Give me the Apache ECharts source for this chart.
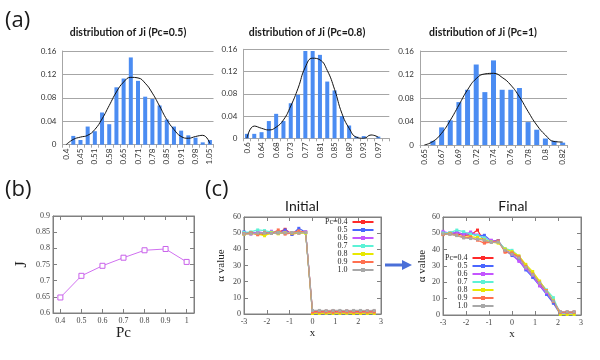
<!DOCTYPE html>
<html>
<head>
<meta charset="utf-8">
<script src="https://cdn.jsdelivr.net/npm/echarts@6/dist/echarts.min.js"></script>
<style>
  html, body { margin: 0; padding: 0; background: #fff; }
  #chart { width: 600px; height: 360px; }
</style>
</head>
<body>
<div id="chart"></div>
<script>
// (a) distribution of Ji, three histograms with a density curve
const catsA1 = ['0.4', '0.42', '0.45', '0.48', '0.51', '0.55', '0.58', '0.61', '0.65', '0.68', '0.71',
  '0.75', '0.78', '0.81', '0.85', '0.88', '0.91', '0.95', '0.98', '1.01', '1.05'];
const barsA1 = [0, 0.015, 0.008, 0.031, 0.023, 0.055, 0.035, 0.098, 0.113, 0.149, 0.109,
  0.082, 0.078, 0.067, 0.043, 0.031, 0.024, 0.016, 0.012, 0.004, 0.008];
const curveA1 = [0, 0.009, 0.013, 0.016, 0.026, 0.044, 0.067, 0.09, 0.107, 0.115, 0.114,
  0.105, 0.088, 0.066, 0.043, 0.026, 0.014, 0.011, 0.014, 0.016, 0.002];

const catsA2 = ['0.6', '0.62', '0.64', '0.66', '0.68', '0.71', '0.73', '0.75', '0.77', '0.79',
  '0.81', '0.83', '0.85', '0.87', '0.89', '0.91', '0.93', '0.95', '0.97', '0.99'];
const barsA2 = [0.008, 0.008, 0.011, 0.031, 0.044, 0.031, 0.063, 0.078, 0.157, 0.157,
  0.15, 0.102, 0.086, 0.04, 0.023, 0.003, 0.004, 0, 0.003, 0];
const curveA2 = [0, 0.022, 0.018, 0.015, 0.02, 0.033, 0.058, 0.09, 0.128, 0.144,
  0.141, 0.122, 0.088, 0.045, 0.018, 0.002, 0, 0.006, 0.002, '-'];

const catsA3 = ['0.65', '0.66', '0.67', '0.68', '0.69', '0.71', '0.72', '0.73', '0.74', '0.75',
  '0.76', '0.77', '0.78', '0.79', '0.8', '0.81', '0.82'];
const barsA3 = [0, 0.007, 0.03, 0.042, 0.073, 0.094, 0.137, 0.09, 0.144, 0.094,
  0.094, 0.097, 0.039, 0.026, 0.011, 0.007, 0.004];
const curveA3 = [0, 0.006, 0.02, 0.042, 0.068, 0.094, 0.113, 0.121, 0.122, 0.115,
  0.102, 0.082, 0.057, 0.034, 0.017, 0.006, 0.005];

// (b) J versus Pc
const pcVals = [0.4, 0.5, 0.6, 0.7, 0.8, 0.9, 1];
const jVals = [0.648, 0.715, 0.746, 0.771, 0.794, 0.798, 0.758];

// (c) alpha value along x, initial and final
const xs = [-3, -2.7, -2.4, -2.1, -1.8, -1.5, -1.2, -0.9, -0.6, -0.3,
  0, 0.3, 0.6, 0.9, 1.2, 1.5, 1.8, 2.1, 2.4, 2.7];
const pcNames = ['Pc=0.4', '0.5', '0.6', '0.7', '0.8', '0.9', '1.0'];
const pcColors = ['#ff2a2a', '#4a66ff', '#c455ff', '#5cf2d6', '#e8e800', '#ff7050', '#a8a8a8'];

const initial = [
  [49.8, 50.4, 49.6, 49.2, 50.0, 50.6, 52.4, 49.4, 50.2, 50.6, 1.8, 1.6, 1.7, 1.9, 1.6, 1.8, 1.7, 1.6, 1.8, 1.7],
  [50.8, 49.8, 50.4, 49.6, 50.6, 50.2, 52.0, 49.2, 53.0, 50.6, 0.5, 0.4, 0.6, 0.5, 0.4, 0.5, 0.6, 0.4, 0.5, 0.5],
  [50.2, 49.4, 50.8, 50.2, 51.2, 49.8, 50.6, 50.4, 50.2, 50.8, 0.8, 0.9, 0.8, 0.7, 0.9, 0.8, 0.8, 0.9, 0.7, 0.8],
  [50.4, 50.8, 52.0, 51.6, 50.6, 51.0, 49.8, 50.2, 50.6, 50.2, 0.6, 0.7, 0.6, 0.6, 0.7, 0.6, 0.6, 0.7, 0.6, 0.6],
  [49.2, 49.8, 49.4, 48.4, 50.2, 49.6, 50.4, 50.0, 50.2, 50.0, 0.3, 0.3, 0.4, 0.3, 0.3, 0.4, 0.3, 0.3, 0.3, 0.3],
  [49.6, 50.2, 49.0, 50.6, 49.8, 52.0, 49.4, 50.2, 51.4, 50.4, 1.2, 1.3, 1.2, 1.1, 1.3, 1.2, 1.2, 1.3, 1.2, 1.2],
  [49.4, 49.6, 50.0, 50.2, 49.8, 50.0, 50.2, 50.4, 50.0, 50.4, 2.2, 2.2, 2.1, 2.2, 2.2, 2.1, 2.2, 2.2, 2.1, 2.2]
];
const final = [
  [49.6, 50.2, 49.6, 48.8, 49.0, 52.0, 44.6, 45.0, 45.4, 39.0, 38.0, 35.4, 29.0, 24.0, 18.8, 14.6, 7.6, 1.8, 1.8, 1.8],
  [50.4, 49.8, 50.6, 49.6, 49.8, 48.6, 48.8, 45.4, 45.6, 39.8, 36.4, 33.6, 27.6, 23.0, 18.0, 12.6, 7.2, 0.4, 0.4, 0.4],
  [51.2, 50.0, 50.4, 49.2, 50.8, 49.0, 47.0, 45.8, 44.6, 40.2, 37.0, 32.8, 28.4, 24.2, 17.8, 13.6, 8.4, 0.8, 0.8, 0.8],
  [50.2, 50.4, 52.0, 51.0, 49.6, 48.6, 47.2, 45.0, 44.8, 40.6, 39.6, 36.0, 30.4, 25.4, 20.4, 15.4, 10.6, 0.6, 0.6, 0.6],
  [49.4, 49.8, 48.8, 47.6, 48.0, 47.4, 46.0, 44.6, 44.0, 40.4, 38.8, 36.2, 31.0, 26.6, 20.8, 15.0, 9.0, 0.3, 0.3, 0.3],
  [49.2, 49.6, 48.8, 47.4, 47.6, 45.8, 44.0, 44.6, 45.4, 38.4, 38.0, 35.6, 29.8, 25.0, 19.6, 14.8, 8.2, 1.6, 1.6, 1.6],
  [49.6, 49.4, 48.6, 47.2, 46.8, 46.4, 45.8, 44.4, 44.6, 39.6, 37.2, 34.8, 29.2, 24.6, 19.6, 14.4, 8.6, 2.0, 2.0, 2.0]
];

const chart = echarts.init(document.getElementById('chart'));

const excelGray = '#a6a6a6';
const frameGray = '#808080';
const serif = 'Liberation Serif';

function histX(gridIndex, cats) {
  return {
    type: 'category', gridIndex: gridIndex, data: cats, boundaryGap: true,
    axisLine: { lineStyle: { color: excelGray } },
    axisTick: { show: true, length: 3, interval: 0, lineStyle: { color: excelGray } },
    axisLabel: { interval: 1, rotate: 90, fontSize: 8, color: '#333', margin: 4, fontFamily: 'Lato' }
  };
}
function histY(gridIndex) {
  return {
    type: 'value', gridIndex: gridIndex, min: 0, max: 0.16, interval: 0.04,
    axisLine: { show: true, lineStyle: { color: excelGray } },
    axisTick: { show: false },
    splitLine: { lineStyle: { color: excelGray } },
    axisLabel: { fontSize: 8, color: '#333', margin: 6, fontFamily: 'Lato' }
  };
}
function histSeries(i, bars, curve, bw) {
  return [
    { type: 'bar', xAxisIndex: i, yAxisIndex: i, data: bars, barWidth: bw, silent: true,
      itemStyle: { color: '#4b8cf2' } },
    { type: 'line', xAxisIndex: i, yAxisIndex: i, data: curve, smooth: 0.5, symbol: 'none', silent: true,
      lineStyle: { color: '#111', width: 1 }, z: 5 }
  ];
}

// gnuplot style frame: value axis plus a mirrored axis with inward ticks
function gpAxis(dim, gridIndex, min, max, extra, mirror) {
  const a = {
    type: 'value', gridIndex: gridIndex, min: min, max: max,
    position: mirror ? (dim === 'x' ? 'top' : 'right') : (dim === 'x' ? 'bottom' : 'left'),
    axisLine: { show: true, onZero: false, lineStyle: { color: frameGray } },
    axisTick: { show: true, inside: true, length: 4, lineStyle: { color: frameGray } },
    axisLabel: { show: !mirror, fontSize: 8, color: '#444', margin: 3, fontFamily: serif },
    splitLine: { show: false }
  };
  return Object.assign(a, extra || {});
}

const cAxisName = { fontFamily: serif, fontSize: 11, color: '#222' };

const xAxes = [
  histX(0, catsA1), histX(1, catsA2), histX(2, catsA3),
  gpAxis('x', 3, 0.365, 1.035, {
    axisTick: { show: true, inside: true, length: 4, customValues: pcVals, lineStyle: { color: frameGray } },
    axisLabel: { fontSize: 8, color: '#444', margin: 4, fontFamily: serif, customValues: pcVals },
    name: 'Pc', nameLocation: 'middle', nameGap: 12,
    nameTextStyle: { fontFamily: serif, fontSize: 15, color: '#222' }
  }),
  gpAxis('x', 3, 0.365, 1.035, {
    axisTick: { show: true, inside: true, length: 4, customValues: pcVals, lineStyle: { color: frameGray } }
  }, true),
  gpAxis('x', 4, -3, 3, { interval: 1, name: 'x', nameLocation: 'middle', nameGap: 14,
    nameTextStyle: cAxisName,
    axisLabel: { fontSize: 8, color: '#444', margin: 4, fontFamily: serif } }),
  gpAxis('x', 4, -3, 3, { interval: 1 }, true),
  gpAxis('x', 5, -3, 3, { interval: 1, name: 'x', nameLocation: 'middle', nameGap: 14,
    nameTextStyle: cAxisName,
    axisLabel: { fontSize: 8, color: '#444', margin: 4, fontFamily: serif } }),
  gpAxis('x', 5, -3, 3, { interval: 1 }, true)
];

const yAxes = [
  histY(0), histY(1), histY(2),
  gpAxis('y', 3, 0.6, 0.9, { interval: 0.05, name: 'J', nameLocation: 'middle', nameGap: 23,
    nameTextStyle: { fontFamily: serif, fontSize: 16, color: '#222' } }),
  gpAxis('y', 3, 0.6, 0.9, { interval: 0.05 }, true),
  gpAxis('y', 4, 0, 60, { interval: 10, name: 'α value', nameLocation: 'middle', nameGap: 17,
    nameTextStyle: cAxisName }),
  gpAxis('y', 4, 0, 60, { interval: 10 }, true),
  gpAxis('y', 5, 0, 60, { interval: 10, name: 'α value', nameLocation: 'middle', nameGap: 12,
    nameTextStyle: cAxisName }),
  gpAxis('y', 5, 0, 60, { interval: 10 }, true)
];

const series = [].concat(
  histSeries(0, barsA1, curveA1, 4),
  histSeries(1, barsA2, curveA2, 4),
  histSeries(2, barsA3, curveA3, 5),
  [{
    type: 'line', xAxisIndex: 3, yAxisIndex: 3, silent: true,
    data: pcVals.map((p, i) => [p, jVals[i]]),
    symbol: 'rect', symbolSize: 5,
    lineStyle: { color: '#d070f0', width: 1 },
    itemStyle: { color: '#fff', borderColor: '#c860ea', borderWidth: 1 }
  }]
);

pcNames.forEach((name, k) => {
  const common = {
    type: 'line', name: name, symbol: 'rect', symbolSize: 3, silent: true,
    lineStyle: { color: pcColors[k], width: 1.2 },
    itemStyle: { color: pcColors[k] }
  };
  series.push(Object.assign({}, common, { xAxisIndex: 5, yAxisIndex: 5,
    data: xs.map((x, i) => [x, initial[k][i]]) }));
  series.push(Object.assign({}, common, { xAxisIndex: 7, yAxisIndex: 7,
    data: xs.map((x, i) => [x, final[k][i]]) }));
});

function pcLegend(left, top) {
  return {
    data: pcNames, orient: 'vertical', left: left, top: top, padding: 0,
    align: 'right', itemGap: 0, itemWidth: 21, itemHeight: 5, selectedMode: false,
    textStyle: { fontFamily: serif, fontSize: 8, lineHeight: 8, color: '#222' }
  };
}

function label(text, x, y, font, align) {
  return { type: 'text', x: x, y: y, silent: true,
    style: { text: text, font: font, fill: '#1a1a1a', align: align || 'center', verticalAlign: 'middle',
      textAlign: align || 'center', textVerticalAlign: 'middle' } };
}

const frame = { show: true, borderColor: frameGray, borderWidth: 1, backgroundColor: 'transparent' };

const option = {
  animation: false,
  grid: [
    { left: 62.5, top: 51, width: 151, height: 93.7 },
    { left: 243.3, top: 49.3, width: 146, height: 89 },
    { left: 420, top: 51, width: 147, height: 94 },
    Object.assign({ left: 53, top: 216, width: 141, height: 97 }, frame),
    Object.assign({ left: 244, top: 217, width: 137, height: 97 }, frame),
    Object.assign({ left: 443, top: 217, width: 138, height: 98 }, frame)
  ],
  xAxis: xAxes,
  yAxis: yAxes,
  legend: [pcLegend(325, 218), pcLegend(445, 254)],
  series: series,
  graphic: [
    label('(a)', 5, 21, '22px "Open Sans"', 'left'),
    label('(b)', 5, 190, '22px "Open Sans"', 'left'),
    label('(c)', 205, 190, '22px "Open Sans"', 'left'),
    label('distribution of Ji (Pc=0.5)', 128, 33, 'bold 10.5px Lato'),
    label('distribution of Ji (Pc=0.8)', 307, 33, 'bold 10.5px Lato'),
    label('distribution of Ji (Pc=1)', 483, 33, 'bold 10.5px Lato'),
    label('Initial', 302, 206, '14px Lato'),
    label('Final', 513, 206, '14px Lato'),
    { type: 'line', silent: true, shape: { x1: 385, y1: 265, x2: 404, y2: 265 },
      style: { stroke: '#4a6fd8', lineWidth: 3 } },
    { type: 'polygon', silent: true, shape: { points: [[402, 260], [412, 265], [402, 270]] },
      style: { fill: '#4a6fd8' } }
  ]
};

chart.setOption(option);
</script>
</body>
</html>
